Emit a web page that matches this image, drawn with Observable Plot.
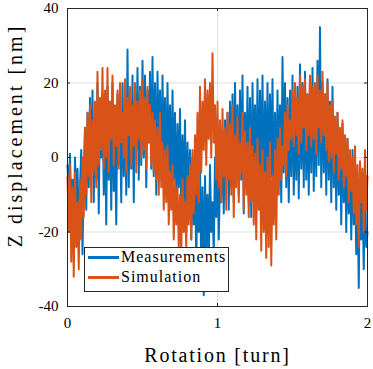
<!DOCTYPE html>
<html><head><meta charset="utf-8">
<script src="https://cdn.jsdelivr.net/npm/d3@7"></script>
<script src="https://cdn.jsdelivr.net/npm/@observablehq/plot@0.6"></script>
<style>
body{margin:0;background:#fff;}
#chart{position:relative;width:373px;height:369px;}
.legend{position:absolute;left:84px;top:247px;width:143px;height:43px;border:1px solid #262626;background:#fff;font-family:"Liberation Serif",serif;font-size:16px;letter-spacing:1px;color:#000;}
.sw{position:absolute;left:3px;width:31px;height:3px;}
.lab{position:absolute;left:36px;line-height:18px;}
</style></head>
<body><div id="chart"></div>
<script>
const turns = 2;
const seriesNames = ["Measurements", "Simulation"];
const seriesColors = ["#0072BD", "#D95319"];
const measurements = [
 -2,-10,1,-16,-6,-19,0,-12,-3,-18,
 -8,2,-26,-5,8,-14,12,-8,16,-4,
 18,-12,10,-6,20,-15,14,0,17,-10,
 12,-18,19,-6,15,-14,20,-9,8,-18,
 17,-2,12,-12,20,-5,14,-10,29,-8,
 16,-3,22,-12,18,2,24,-6,19,-2,
 26,0,22,-8,18,4,23,-3,27,-5,
 20,-10,23,1,18,-6,22,-2,16,-8,
 20,-4,14,-10,18,-6,12,-14,9,-8,
 13,-16,6,-12,10,-20,4,-14,2,-22,
 0,-18,-4,-28,-6,-20,-2,-30,-8,-37,
 -5,-24,-10,-30,-2,-20,-12,-26,0,-16,
 3,-22,-6,-12,6,-15,10,-6,12,-14,
 15,-8,17,-12,20,-4,14,-10,18,-6,
 22,-15,12,-8,19,-12,16,-16,20,-4,
 14,-10,21,-13,18,-6,22,-14,15,-8,
 20,-12,17,-5,21,-15,12,-10,18,-8,
 14,-12,27,-4,20,-8,16,-12,18,-5,
 22,-10,15,-6,19,-11,25,-3,20,-8,
 23,-6,17,-10,21,-4,24,-9,18,-5,
 26,-2,35,-8,20,-4,17,-10,21,-6,
 15,-12,19,-8,10,-14,12,-10,6,-18,
 9,-12,4,-20,5,-15,0,-22,2,-18,
 -4,-26,-8,-35,-2,-22,-10,-30,-5,-24,
 -20
];
const simulation = [
 -5,-20,-2,-28,-8,-32,-4,-24,-12,-30,
 -6,-22,0,-16,8,-10,12,-5,14,-12,
 10,-4,15,-8,23,-2,16,2,24,-3,
 18,0,24,-4,15,5,22,-2,14,3,
 18,-3,20,4,12,0,21,-4,16,6,
 19,-2,14,3,20,-4,15,5,18,0,
 21,2,16,-3,19,4,14,-2,12,-4,
 10,-6,8,-10,12,-8,4,-14,2,-12,
 3,-18,-4,-14,-2,-22,-6,-18,-8,-24,
 -10,-26,-6,-20,-12,-24,-5,-18,-2,-22,
 2,-15,6,-10,12,-12,19,-4,15,2,
 21,-2,18,5,20,0,28,4,14,-6,
 15,-8,10,-12,13,-5,8,-14,12,-6,
 9,-10,14,-16,6,-8,11,-12,4,-4,
 12,-14,7,-10,4,-16,8,-12,3,-18,
 1,-22,5,-14,-2,-25,2,-20,-4,-27,
 0,-24,4,-29,-5,-18,2,-22,5,-10,
 8,-6,3,-2,12,-5,14,2,10,5,
 18,3,20,6,16,1,22,4,19,8,
 21,2,17,6,22,3,19,5,20,1,
 22,8,18,4,23,6,17,2,20,-1,
 14,0,15,-4,11,1,12,-6,8,-3,
 10,-8,6,-5,5,-12,2,-9,0,-15,
 3,-18,-2,-24,-1,-12,-3,-20,2,-14,
 -5
];
const xTicks = [0, 1, 2];
const yTicks = [-40, -20, 0, 20, 40];
const xLabel = "Rotation [turn]";
const yLabel = "Z displacement [nm]";

const toRows = arr => arr.map((v, i) => ({x: turns * i / (arr.length - 1), y: v}));
const ink = "#262626";

const plot = Plot.plot({
  width: 373, height: 369,
  marginLeft: 67, marginRight: 6, marginTop: 8, marginBottom: 63,
  style: {fontFamily: "'Liberation Serif', serif", fontSize: "15px", color: ink, background: "#fff"},
  x: {domain: [0, 2], label: null},
  y: {domain: [-40, 40], label: null},
  marks: [
    Plot.gridX(xTicks, {stroke: "#dfdfdf", strokeOpacity: 1}),
    Plot.gridY(yTicks, {stroke: "#dfdfdf", strokeOpacity: 1}),
    Plot.line(toRows(measurements), {x: "x", y: "y", stroke: seriesColors[0], strokeWidth: 2}),
    Plot.line(toRows(simulation), {x: "x", y: "y", stroke: seriesColors[1], strokeWidth: 2}),
    Plot.axisX(xTicks, {tickSize: 0, tickPadding: 11, tickFormat: d => String(d), fontSize: 15, fill: "#000"}),
    Plot.axisY(yTicks, {tickSize: 0, tickPadding: 9, tickFormat: d => String(d), fontSize: 15, fill: "#000"}),
    Plot.ruleX(xTicks, {x: d => d, y1: -40, y2: -39.2, stroke: ink}),
    Plot.ruleX(xTicks, {x: d => d, y1: 40, y2: 39.2, stroke: ink}),
    Plot.ruleY(yTicks, {y: d => d, x1: 0, x2: 0.02, stroke: ink}),
    Plot.ruleY(yTicks, {y: d => d, x1: 2, x2: 1.98, stroke: ink}),
    Plot.frame({stroke: ink}),
    Plot.text([xLabel], {text: d => d, frameAnchor: "bottom", dy: 49, lineAnchor: "middle", fontSize: 20, fill: "#000"}),
    Plot.text([yLabel], {text: d => d, frameAnchor: "left", textAnchor: "middle", rotate: -90, dx: -52, dy: -22, lineAnchor: "middle", fontSize: 20, fill: "#000"})
  ]
});
d3.select(plot).selectAll("text").each(function() {
  const t = this.textContent;
  if (t === xLabel) this.style.letterSpacing = "1.8px";
  if (t === yLabel) this.style.letterSpacing = "3px";
});
const chart = document.getElementById("chart");
chart.appendChild(plot);
const leg = document.createElement("div");
leg.className = "legend";
seriesNames.forEach((name, i) => {
  const cy = 9 + 20 * i;
  const sw = document.createElement("div");
  sw.className = "sw"; sw.style.top = (cy - 1.5) + "px"; sw.style.background = seriesColors[i];
  const lab = document.createElement("div");
  lab.className = "lab"; lab.style.top = (cy - 9) + "px"; lab.textContent = name;
  leg.appendChild(sw); leg.appendChild(lab);
});
chart.appendChild(leg);
</script></body></html>
